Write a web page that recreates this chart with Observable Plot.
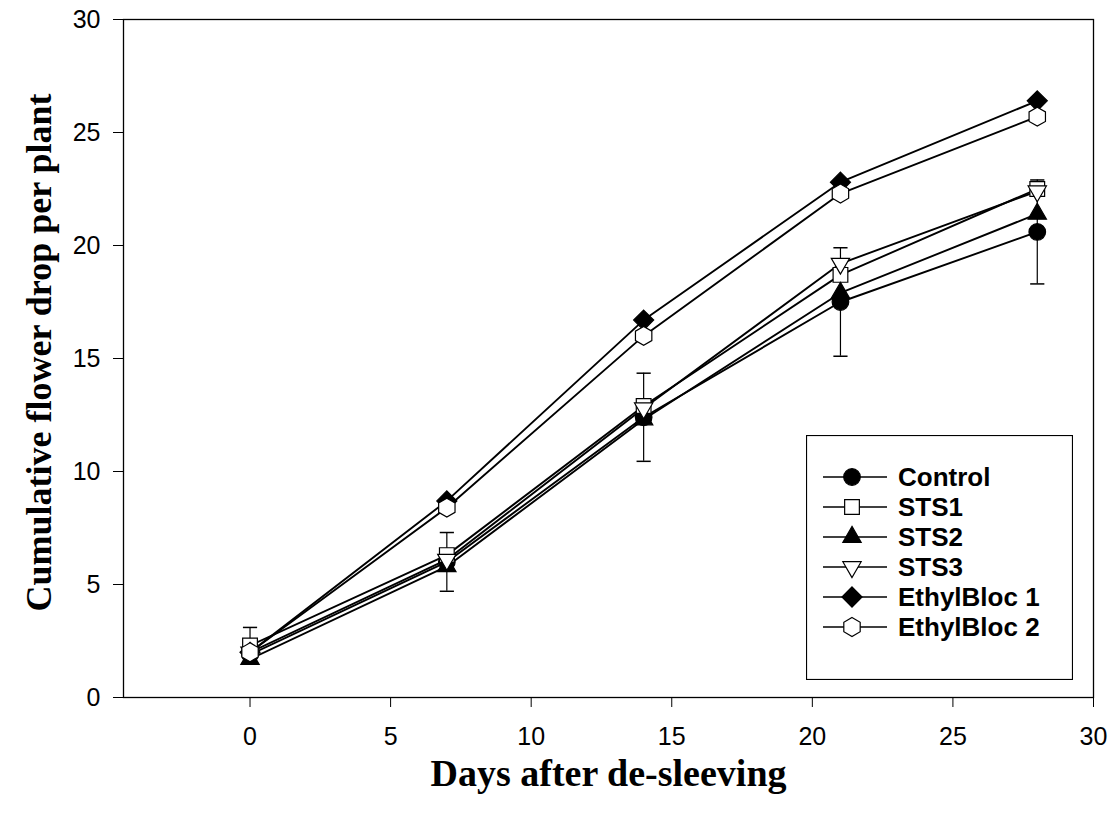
<!DOCTYPE html>
<html><head><meta charset="utf-8">
<script src="https://cdn.jsdelivr.net/npm/d3@7"></script>
<script src="https://cdn.jsdelivr.net/npm/@observablehq/plot@0.6"></script>
<style>
body{margin:0;background:#fff}
#wrap{position:relative;width:1114px;height:814px}
#legend{position:absolute;left:806px;top:435px}
</style>
</head><body><div id="wrap"></div>
<script>
// ---- data ----
const days = [0, 7, 14, 21, 28];
const seriesNames = ["Control", "STS1", "STS2", "STS3", "EthylBloc 1", "EthylBloc 2"];
const control    = [1.9, 6.0, 12.4, 17.5, 20.6];
const sts1       = [2.3, 6.3, 12.9, 18.7, 22.5];
const sts2       = [1.7, 5.8, 12.3, 17.9, 21.4];
const sts3       = [2.0, 6.1, 12.8, 19.2, 22.4];
const ethyl1     = [2.0, 8.7, 16.7, 22.8, 26.4];
const ethyl2     = [2.0, 8.4, 16.0, 22.3, 25.7];
const controlErr = [0, 1.3, 1.95, 2.4, 2.3];
const sts1Err    = [0.8, 0, 0, 0, 0];
const xTicks = [0, 5, 10, 15, 20, 25, 30];
const yTicks = [0, 5, 10, 15, 20, 25, 30];

const values = [control, sts1, sts2, sts3, ethyl1, ethyl2];
const errs = [controlErr, sts1Err, null, null, null, null];

// custom symbols
const symbolTriDown = {
  draw(ctx, size) {
    const a = Math.sqrt(4 * size / Math.sqrt(3));
    const h = a * Math.sqrt(3) / 2;
    ctx.moveTo(0, 2 * h / 3);
    ctx.lineTo(-a / 2, -h / 3);
    ctx.lineTo(a / 2, -h / 3);
    ctx.closePath();
  }
};
const symbolDiamondWide = {
  draw(ctx, size) {
    const s = Math.sqrt(size / 2);
    ctx.moveTo(0, -s); ctx.lineTo(s, 0); ctx.lineTo(0, s); ctx.lineTo(-s, 0); ctx.closePath();
  }
};
const symbolHex = {
  draw(ctx, size) {
    const R = Math.sqrt(size / (3 * Math.sqrt(3) / 2));
    for (let k = 0; k < 6; k++) {
      const a = Math.PI / 3 * k - Math.PI / 2;
      const x = R * Math.cos(a), y = R * Math.sin(a);
      if (k === 0) ctx.moveTo(x, y); else ctx.lineTo(x, y);
    }
    ctx.closePath();
  }
};
const symbolCap = {
  draw(ctx, size) {
    const w = Math.sqrt(size) / 2;
    ctx.moveTo(-w, 0); ctx.lineTo(w, 0);
  }
};
const styles = [
  {symbol: d3.symbolCircle, fill: "black", r: 8.3},
  {symbol: d3.symbolSquare, fill: "white", r: 8.3},
  {symbol: d3.symbolTriangle, fill: "black", r: 6.8},
  {symbol: symbolTriDown, fill: "white", r: 6.8},
  {symbol: symbolDiamondWide, fill: "black", r: 8},
  {symbol: symbolHex, fill: "white", r: 8.6}
];

const rows = [];
seriesNames.forEach((s, i) => days.forEach((d, j) => rows.push({
  series: s, idx: i, day: d, value: values[i][j],
  err: errs[i] ? errs[i][j] : 0
})));
const errRows = rows.filter(r => r.err > 0);

const serif = "'Liberation Serif','Times New Roman',serif";
const sans = "'Liberation Sans',Arial,sans-serif";

const marks = [
  Plot.frame({stroke: "black", strokeWidth: 1.3}),
  Plot.axisX({ticks: xTicks, tickSize: 10, tickPadding: 20, fontSize: 25, fontFamily: sans, label: null}),
  Plot.axisY({ticks: yTicks, tickSize: 10, tickPadding: 13, fontSize: 25, fontFamily: sans, label: null}),
  Plot.ruleX(errRows, {x: "day", y1: d => d.value - d.err, y2: d => d.value + d.err, stroke: "black", strokeWidth: 1.2}),
  Plot.dot(errRows, {x: "day", y: d => d.value - d.err, symbol: symbolCap, r: 8, stroke: "black", strokeWidth: 1.5, fill: "none"}),
  Plot.dot(errRows, {x: "day", y: d => d.value + d.err, symbol: symbolCap, r: 8, stroke: "black", strokeWidth: 1.5, fill: "none"}),
  Plot.line(rows, {x: "day", y: "value", z: "series", stroke: "black", strokeWidth: 1.9}),
];
seriesNames.forEach((s, i) => {
  marks.push(Plot.dot(rows.filter(r => r.idx === i), {
    x: "day", y: "value", symbol: styles[i].symbol, r: styles[i].r,
    fill: styles[i].fill, stroke: "black", strokeWidth: 1.2
  }));
});
marks.push(Plot.text(["Days after de-sleeving"], {frameAnchor: "bottom", dy: 88, fontSize: 38, fontWeight: "bold", fontFamily: serif, fill: "black"}));
marks.push(Plot.text(["Cumulative flower drop per plant"], {frameAnchor: "left", textAnchor: "middle", dx: -84, dy: -6, rotate: -90, fontSize: 36, fontWeight: "bold", fontFamily: serif, fill: "black"}));

const chart = Plot.plot({
  width: 1114, height: 814,
  marginLeft: 123, marginRight: 21, marginTop: 19, marginBottom: 117,
  x: {domain: [-4.5, 30]},
  y: {domain: [0, 30]},
  style: {background: "white", color: "black", overflow: "visible"},
  marks
});
const wrap = document.getElementById("wrap");
wrap.appendChild(chart);

// legend
const lw = 267, lh = 245, rowH = 30;
const leg = d3.select(wrap).append("div").attr("id", "legend")
  .append("svg").attr("width", lw).attr("height", lh);
leg.append("rect").attr("x", 0.5).attr("y", 0.5).attr("width", lw - 1).attr("height", lh - 1)
  .attr("fill", "white").attr("stroke", "black").attr("stroke-width", 1.2);
seriesNames.forEach((s, i) => {
  const y = 42 + i * rowH;
  const g = leg.append("g");
  g.append("line").attr("x1", 17).attr("x2", 81).attr("y1", y).attr("y2", y).attr("stroke", "black").attr("stroke-width", 1.6);
  const area = Math.PI * styles[i].r * styles[i].r;
  g.append("path").attr("d", d3.symbol(styles[i].symbol, area)()).attr("transform", `translate(46,${y})`)
    .attr("fill", styles[i].fill).attr("stroke", "black").attr("stroke-width", 1.2);
  g.append("text").attr("x", 92).attr("y", y).attr("dy", "0.36em")
    .attr("font-family", sans).attr("font-weight", "bold").attr("font-size", 26).text(s);
});
</script>
</body></html>
